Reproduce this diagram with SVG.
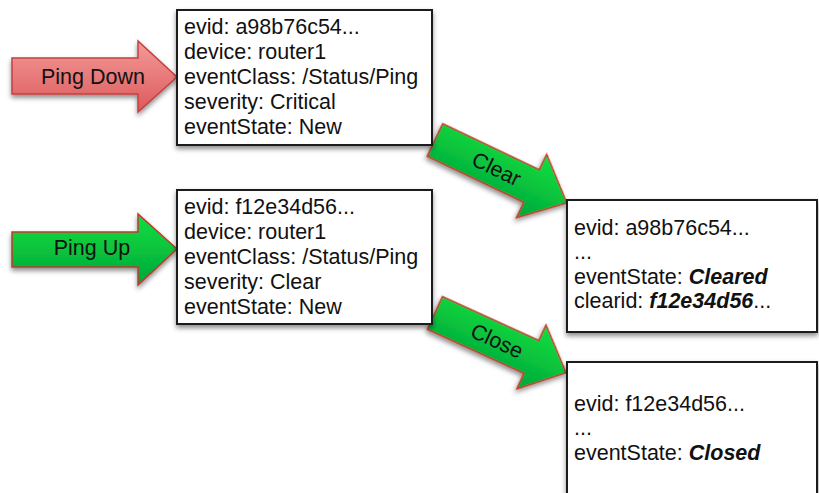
<svg xmlns="http://www.w3.org/2000/svg" width="819" height="493" viewBox="0 0 819 493">
<defs>
<filter id="sh" x="-10%" y="-10%" width="120%" height="130%">
<feDropShadow dx="0" dy="3" stdDeviation="2.5" flood-color="#000" flood-opacity="0.45"/>
</filter>
<linearGradient id="gR" x1="0" y1="0" x2="0" y2="1">
<stop offset="0" stop-color="#f49a9a"/>
<stop offset="1" stop-color="#dc5a5a"/>
</linearGradient>
<linearGradient id="gG" x1="0" y1="0" x2="0" y2="1">
<stop offset="0" stop-color="#10e040"/>
<stop offset="1" stop-color="#00a63a"/>
</linearGradient>
</defs>
<style>
.box{fill:#fff;stroke:#1a1a1a;stroke-width:2;filter:url(#sh)}
.t{font-family:"Liberation Sans",Arial,sans-serif;font-size:21.5px;fill:#111}
.bi{font-weight:bold;font-style:italic}
.red{fill:url(#gR);stroke:#c44040;stroke-width:1.5;filter:url(#sh)}
.grn{fill:url(#gG);stroke:#c0392b;stroke-width:1.5;filter:url(#sh)}
.lbl{font-family:"Liberation Sans",Arial,sans-serif;font-size:21.5px;fill:#111;text-anchor:middle}
</style>
<g id="connectors">
<g id="pingdown">
<path class="red" d="M12,58 L138,58 L138,41 L177,77 L138,112 L138,94 L12,94 Z"/>
<text class="lbl" x="93" y="84">Ping Down</text>
</g>
<g id="pingup">
<path class="grn" d="M12,232 L138,232 L138,214 L177,249 L138,285 L138,267 L12,267 Z"/>
<text class="lbl" x="92" y="255">Ping Up</text>
</g>
<g id="clear" transform="translate(435,140) rotate(25.5)">
<path class="grn" d="M0,-18 L107,-18 L107,-35 L146,0 L107,35 L107,18 L0,18 Z"/>
<text class="lbl" x="68" y="7">Clear</text>
</g>
<g id="close" transform="translate(435,313) rotate(24.5)">
<path class="grn" d="M0,-18 L106,-18 L106,-35 L144,0 L106,35 L106,18 L0,18 Z"/>
<text class="lbl" x="68" y="7">Close</text>
</g>
</g>
<g id="event1">
<rect class="box" x="177" y="10" width="255" height="135"/>
<text class="t" x="184" y="34">evid: a98b76c54...</text>
<text class="t" x="184" y="59">device: router1</text>
<text class="t" x="184" y="84">eventClass: /Status/Ping</text>
<text class="t" x="184" y="109">severity: Critical</text>
<text class="t" x="184" y="134">eventState: New</text>
</g>
<g id="event2">
<rect class="box" x="177" y="190" width="255" height="134"/>
<text class="t" x="184" y="214">evid: f12e34d56...</text>
<text class="t" x="184" y="239">device: router1</text>
<text class="t" x="184" y="264">eventClass: /Status/Ping</text>
<text class="t" x="184" y="289">severity: Clear</text>
<text class="t" x="184" y="314">eventState: New</text>
</g>
<g id="event1cleared">
<rect class="box" x="567" y="200" width="250" height="132"/>
<text class="t" x="574" y="235">evid: a98b76c54...</text>
<text class="t" x="574" y="259">...</text>
<text class="t" x="574" y="284">eventState: <tspan class="bi">Cleared</tspan></text>
<text class="t" x="574" y="308">clearid: <tspan class="bi">f12e34d56</tspan>...</text>
</g>
<g id="event2closed">
<rect class="box" x="567" y="362" width="250" height="140"/>
<text class="t" x="574" y="411">evid: f12e34d56...</text>
<text class="t" x="574" y="435">...</text>
<text class="t" x="574" y="460">eventState: <tspan class="bi">Closed</tspan></text>
</g>
</svg>
